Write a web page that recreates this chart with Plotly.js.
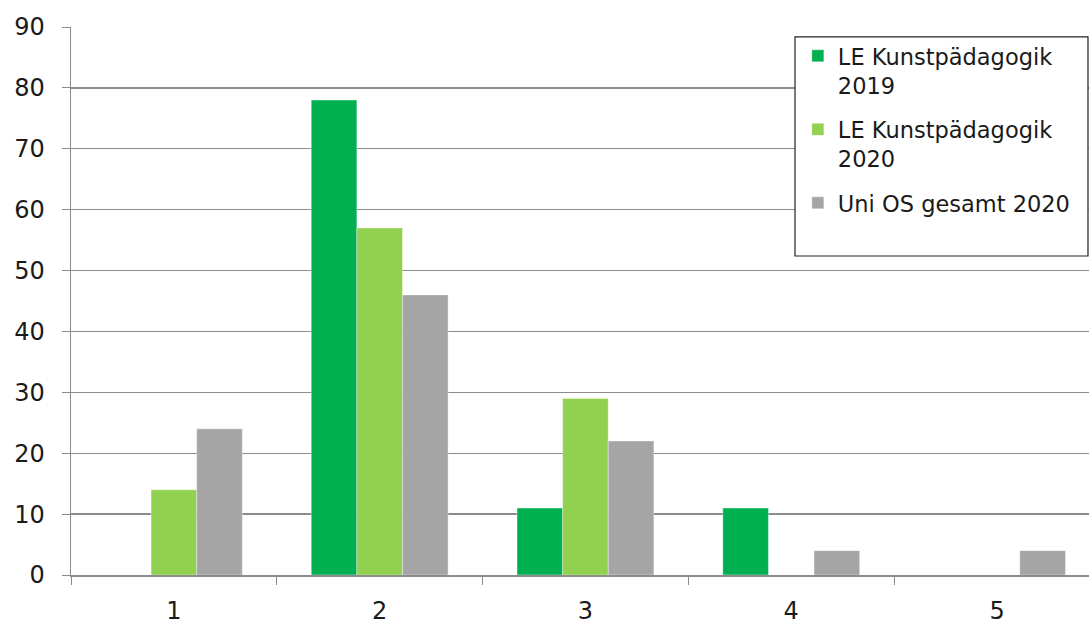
<!DOCTYPE html>
<html>
<head>
<meta charset="utf-8">
<script src="https://cdn.plot.ly/plotly-3.0.1.min.js"></script>
<style>html,body{margin:0;padding:0;background:#fff;}#chart{width:1089px;height:626px;}</style>
</head>
<body>
<div id="chart"></div>
<script>
const categories = ["1", "2", "3", "4", "5"];
const seriesNames = ["LE Kunstpädagogik<br>2019", "LE Kunstpädagogik<br>2020", "Uni OS gesamt 2020"];
const le2019 = [0, 78, 11, 11, 0];
const le2020 = [14, 57, 29, 0, 0];
const uniOS2020 = [24, 46, 22, 4, 4];
const colors = ["#00B050", "#92D050", "#A5A5A5"];
const yTicks = [0, 10, 20, 30, 40, 50, 60, 70, 80, 90];

const seriesValues = [le2019, le2020, uniOS2020];
const traces = seriesValues.map((vals, i) => ({
  type: "bar",
  x: categories,
  y: vals,
  name: seriesNames[i],
  legendgroup: "g" + i,
  marker: {color: colors[i], line: {color: "rgba(255,255,255,0.6)", width: 0.6}},
  hoverinfo: "skip"
}));

const font = {family: "DejaVu Sans, Liberation Sans, sans-serif", size: 24, color: "#1a1a1a"};

const layout = {
  width: 1089,
  height: 626,
  margin: {l: 71, r: 0, t: 27, b: 51},
  paper_bgcolor: "#fff",
  plot_bgcolor: "#fff",
  barmode: "group",
  bargap: 0.335,
  bargroupgap: 0,
  font: font,
  showlegend: true,
  xaxis: {
    type: "category",
    range: [-0.5, 4.447],
    showline: true,
    linecolor: "#8c8c8c",
    linewidth: 1.5,
    ticks: "outside",
    tickson: "boundaries",
    ticklen: 8,
    tickcolor: "#8c8c8c",
    ticklabelstandoff: 14,
    showgrid: false,
    zeroline: false,
    tickfont: font,
    fixedrange: true
  },
  yaxis: {
    range: [0, 90],
    tickvals: yTicks,
    ticktext: yTicks.map(String),
    showline: true,
    linecolor: "#8c8c8c",
    linewidth: 1.5,
    ticks: "outside",
    ticklen: 8,
    tickcolor: "#8c8c8c",
    ticklabelstandoff: 12,
    showgrid: true,
    gridcolor: "#8c8c8c",
    gridwidth: 1.3,
    zeroline: false,
    tickfont: font,
    fixedrange: true
  },
  legend: {
    x: 0.714,
    y: 0.986,
    xanchor: "left",
    yanchor: "top",
    bgcolor: "rgba(0,0,0,0)",
    borderwidth: 0,
    valign: "top",
    tracegroupgap: 12,
    font: {family: "DejaVu Sans, Liberation Sans, sans-serif", size: 22.5, color: "#1a1a1a"}
  },
  shapes: [{
    type: "rect",
    xref: "paper", yref: "paper",
    x0: 0.7112, x1: 0.999, y0: 0.5821, y1: 0.9818,
    line: {color: "#222", width: 1.2},
    fillcolor: "#fff",
    layer: "above"
  }]
};

Plotly.newPlot("chart", traces, layout, {displayModeBar: false, staticPlot: true});
</script>
</body>
</html>
